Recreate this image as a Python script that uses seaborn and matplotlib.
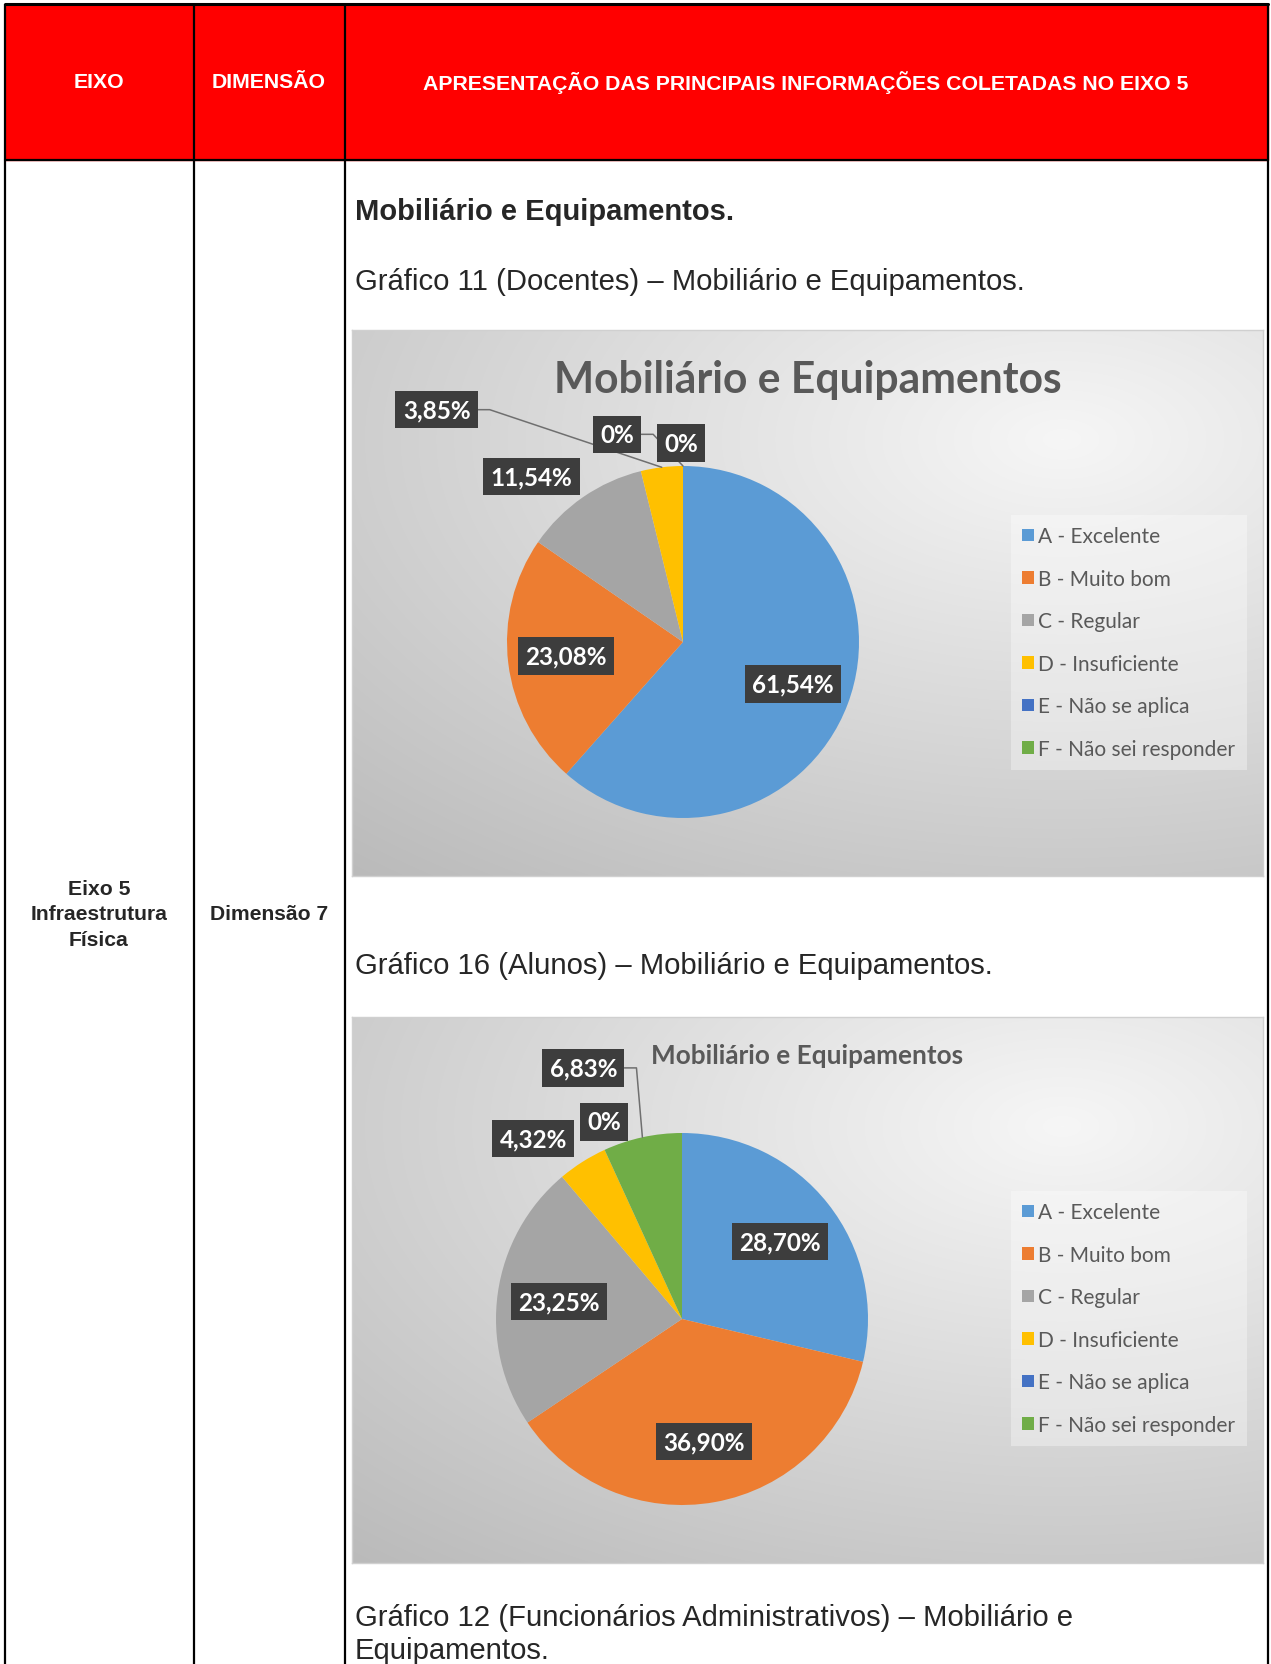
import numpy as np
import matplotlib
matplotlib.use("Agg")
import matplotlib.pyplot as plt
from matplotlib.patches import Rectangle
import seaborn as sns

# dados dos dois gráficos (percentuais)
categorias = ["A - Excelente", "B - Muito bom", "C - Regular", "D - Insuficiente",
              "E - Não se aplica", "F - Não sei responder"]
docentes = [61.54, 23.08, 11.54, 3.85, 0.0, 0.0]
alunos = [28.70, 36.90, 23.25, 4.32, 0.0, 6.83]
cores = ["#5B9BD5", "#ED7D31", "#A5A5A5", "#FFC000", "#4472C4", "#70AD47"]

titulo_grafico = "Mobiliário e Equipamentos"
cabecalho = ["EIXO", "DIMENSÃO", "APRESENTAÇÃO DAS PRINCIPAIS INFORMAÇÕES COLETADAS NO EIXO 5"]

sns.set_theme(style="white")
plt.rcParams["font.family"] = ["Liberation Sans", "DejaVu Sans"]

W, H = 1271, 1665
fig = plt.figure(figsize=(W / 100, H / 100), dpi=100)
base = fig.add_axes([0, 0, 1, 1])
base.set_xlim(0, W)
base.set_ylim(H, 0)
base.axis("off")


def frac(x0, y0, x1, y1):
    return [x0 / W, 1 - y1 / H, (x1 - x0) / W, (y1 - y0) / H]


def rotulo(v):
    if v == 0:
        return "0%"
    return f"{v:.2f}".replace(".", ",") + "%"


# tabela
base.add_patch(Rectangle((5, 5), 1263, 156, color="#FF0000", zorder=0))
for x in [5, 194, 345, 1268]:
    base.plot([x, x], [5, H], color="black", lw=1.6, solid_capstyle="butt")
base.plot([5, 1268], [5, 5], color="black", lw=2.2)
base.plot([5, 1268], [161, 161], color="black", lw=1.6)

for x, txt in zip([99, 269, 806], cabecalho):
    base.text(x, 83, txt, ha="center", va="center", color="white",
              fontsize=15.3, fontweight="bold")

base.text(99, 915, "Eixo 5\nInfraestrutura\nFísica", ha="center", va="center",
          fontsize=15.2, fontweight="bold", linespacing=1.42)
base.text(269, 915, "Dimensão 7", ha="center", va="center", fontsize=15.2, fontweight="bold")

base.text(355, 212, "Mobiliário e Equipamentos.", va="center", fontsize=21, fontweight="bold")
base.text(355, 282, "Gráfico 11 (Docentes) – Mobiliário e Equipamentos.", va="center", fontsize=21.1)
base.text(355, 966, "Gráfico 16 (Alunos) – Mobiliário e Equipamentos.", va="center", fontsize=21.1)
base.text(355, 1618, "Gráfico 12 (Funcionários Administrativos) – Mobiliário e", va="center", fontsize=21.1)
base.text(355, 1651, "Equipamentos.", va="center", fontsize=21.1)


def fundo(box):
    x0, y0, x1, y1 = box
    ax = fig.add_axes(frac(*box))
    w, h = x1 - x0, y1 - y0
    xx, yy = np.meshgrid(np.linspace(0, 1, w), np.linspace(0, 1, h))
    d = np.sqrt((xx - 0.78) ** 2 + ((yy - 0.2) * 1.1) ** 2)
    v = np.clip(0.965 - 0.2 * d, 0, 1)
    ax.imshow(np.dstack([v, v, v]), extent=[0, 1, 0, 1], aspect="auto", origin="upper")
    ax.set_xticks([])
    ax.set_yticks([])
    for s in ax.spines.values():
        s.set_color("#d0d0d0")
        s.set_linewidth(1)
    return ax


def grafico(box, centro, raio, valores, tit_xy, tit_size, leg_xy, posicoes, lideres):
    fundo(box)
    cx, cy = centro
    ax = fig.add_axes(frac(cx - raio, cy - raio, cx + raio, cy + raio))
    fatias, _ = ax.pie(valores, colors=sns.color_palette(cores), startangle=90,
                       counterclock=False, radius=1, wedgeprops=dict(linewidth=0))
    ax.set_xlim(-1, 1)
    ax.set_ylim(-1, 1)
    ax.axis("off")
    fig.text(tit_xy[0], tit_xy[1], titulo_grafico, ha="center", va="center",
             fontsize=tit_size, fontweight="bold", color="#595959", family="Lato",
             transform=base.transData)
    ax.legend(fatias, categorias, loc="upper left",
              bbox_to_anchor=(leg_xy[0] / W, 1 - leg_xy[1] / H),
              bbox_transform=fig.transFigure, borderaxespad=0,
              prop=dict(family="Lato", size=15), labelcolor="#595959",
              handlelength=0.55, handleheight=0.55, handletextpad=0.2,
              labelspacing=1.08, borderpad=0.55, frameon=True, fancybox=False,
              facecolor="white", framealpha=0.35, edgecolor="none")
    textos = []
    for i, (f, v) in enumerate(zip(fatias, valores)):
        meio = np.deg2rad((f.theta1 + f.theta2) / 2)
        if posicoes[i] is None:
            x, y = 0.67 * np.cos(meio), 0.67 * np.sin(meio)
        else:
            x, y = posicoes[i]
        t = ax.text(x, y, rotulo(v), ha="center", va="center", color="white",
                    fontsize=17.5, fontweight="bold", family="Lato", clip_on=False, zorder=5,
                    bbox=dict(boxstyle="square,pad=0.3", fc="#3d3d3d", ec="none"))
        textos.append((t, meio))
    fig.canvas.draw()
    inv = ax.transData.inverted()
    for i, ang in lideres:
        t, meio = textos[i]
        bb = t.get_bbox_patch().get_window_extent()
        (xr, yb), (_, yt) = inv.transform([[bb.x1, bb.y0], [bb.x1, bb.y1]])
        yc = (yb + yt) / 2
        a = meio if ang is None else np.deg2rad(ang)
        ax.plot([xr, xr + 12 / raio, np.cos(a)], [yc, yc, np.sin(a)],
                color="#6f6f6f", lw=1.1, clip_on=False, zorder=4)


grafico((352, 331, 1263, 877), (683, 643), 176, docentes, (808, 380), 30.7,
        (1011, 516),
        [None, None, (-0.86, 0.94), (-1.40, 1.32), (-0.375, 1.18), (-0.01, 1.13)],
        [(3, None), (4, 90)])

grafico((352, 1018, 1263, 1564), (682, 1320), 186, alunos, (807, 1056), 18.8,
        (1011, 1192),
        [None, None, None, (-0.80, 0.97), (-0.42, 1.06), (-0.53, 1.35)],
        [(5, None)])

fig.savefig("out.png", dpi=100)
